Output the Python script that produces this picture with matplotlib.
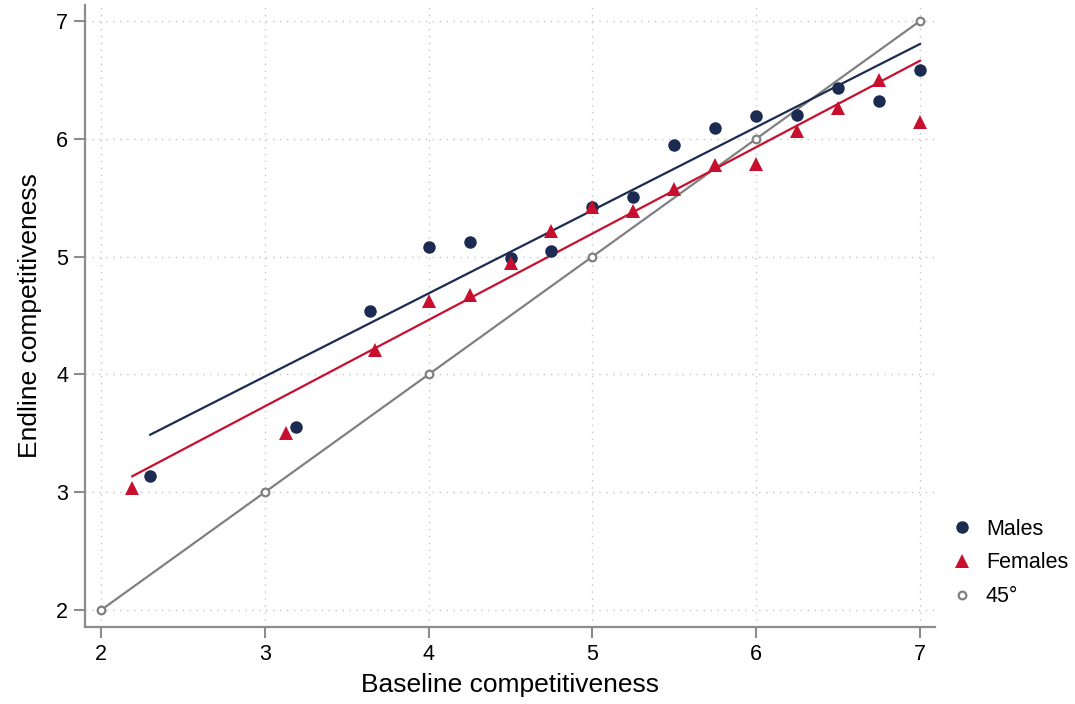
import matplotlib

matplotlib.use("Agg")

import matplotlib.pyplot as plt  # noqa: E402
import numpy as np  # noqa: E402
from matplotlib.lines import Line2D  # noqa: E402

plt.rcParams["font.family"] = ["Liberation Sans", "DejaVu Sans"]

# binned means
male_x = [2.30, 3.19, 3.64, 4.00, 4.25, 4.50, 4.75, 5.00, 5.25, 5.50, 5.75, 6.00, 6.25, 6.50, 6.75, 7.00]
male_y = [3.14, 3.55, 4.54, 5.08, 5.12, 4.99, 5.05, 5.42, 5.51, 5.95, 6.09, 6.19, 6.20, 6.43, 6.32, 6.58]
female_x = [2.19, 3.13, 3.67, 4.00, 4.25, 4.50, 4.75, 5.00, 5.25, 5.50, 5.75, 6.00, 6.25, 6.50, 6.75, 7.00]
female_y = [3.04, 3.50, 4.21, 4.62, 4.67, 4.95, 5.22, 5.42, 5.39, 5.57, 5.78, 5.79, 6.07, 6.26, 6.50, 6.14]

# linear fits (intercept, slope) as drawn in the reference
male_fit = (1.865, 0.7057)
female_fit = (1.529, 0.7334)

diag = [2, 3, 4, 5, 6, 7]

NAVY = "#1c2b52"
RED = "#c8102e"
GRAY = "#808080"

fig = plt.figure(figsize=(10.75, 7.04), dpi=100)
ax = fig.add_axes([0.0791, 0.1094, 0.7907, 0.8835])

ax.plot(diag, diag, color=GRAY, lw=1.6, marker="o", ms=5.5, mfc="white",
        mec=GRAY, mew=1.6, zorder=2)

for xs, (b0, b1), c in [(male_x, male_fit, NAVY), (female_x, female_fit, RED)]:
    xx = np.array([min(xs), max(xs)])
    ax.plot(xx, b0 + b1 * xx, color=c, lw=1.6, zorder=3)

ax.plot(male_x, male_y, "o", color=NAVY, ms=9, mew=0, zorder=4)
ax.plot(female_x, female_y, "^", color=RED, ms=10, mew=0, zorder=4)

ax.set_xlim(1.902, 7.092)
ax.set_ylim(1.856, 7.136)
ax.set_xticks(diag)
ax.set_yticks(diag)
ax.grid(True, color="#c4c4c4", lw=1.0, ls=(0, (1, 4)))
ax.set_axisbelow(True)

for side in ["top", "right"]:
    ax.spines[side].set_visible(False)
for side in ["left", "bottom"]:
    ax.spines[side].set_color("#8c8c8c")
    ax.spines[side].set_linewidth(1.6)
ax.tick_params(length=8, width=1.5, color="#8c8c8c", labelsize=15.5, pad=4)

ax.set_xlabel("Baseline competitiveness", fontsize=19, labelpad=6)
ax.set_ylabel("Endline competitiveness", fontsize=19, labelpad=10)

handles = [
    Line2D([], [], ls="none", marker="o", color=NAVY, ms=9, mew=0),
    Line2D([], [], ls="none", marker="^", color=RED, ms=10, mew=0),
    Line2D([], [], ls="none", marker="o", ms=5.5, mfc="white", mec=GRAY, mew=1.6),
]
fig.legend(handles, ["Males", "Females", "45°"], loc="center left",
           bbox_to_anchor=(930 / 1075, 1 - 563 / 704), frameon=False,
           fontsize=15.5, handlelength=1.2, handletextpad=0.5, labelspacing=0.6)

fig.savefig("out.png", dpi=100)
plt.close(fig)
